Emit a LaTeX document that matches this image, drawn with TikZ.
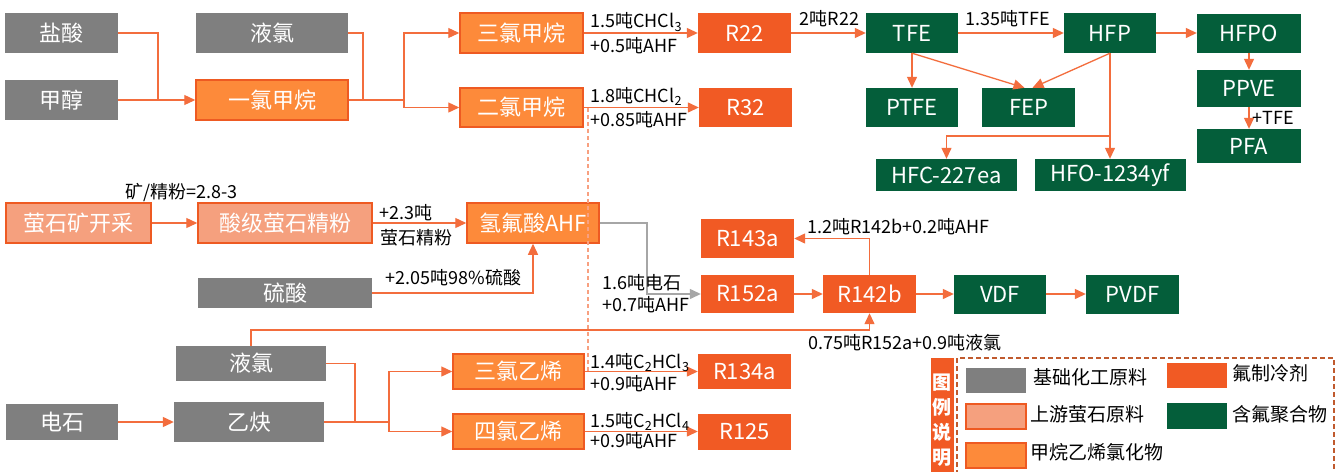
\documentclass[tikz,border=0pt]{standalone}
\usepackage{fontspec}
\setmainfont{Noto Sans CJK SC}
\usetikzlibrary{arrows.meta}
\definecolor{cgray}{HTML}{7F7F7F}
\definecolor{corange}{HTML}{FD8A3A}
\definecolor{csalmon}{HTML}{F5A07E}
\definecolor{cred}{HTML}{F15A24}
\definecolor{cgreen}{HTML}{045E3A}
\definecolor{cborder}{HTML}{EE5A22}
\definecolor{cline}{HTML}{F36D3D}
\definecolor{clight}{HTML}{F8A080}
\definecolor{cgline}{HTML}{A6A6A6}
\definecolor{clegend}{HTML}{C05A2E}
\begin{document}
\begin{tikzpicture}[x=1pt,y=-1pt,
  base/.style={inner sep=0pt, font=\fontsize{22}{22}\selectfont, text=white, anchor=center},
  gbox/.style={base, fill=cgray},
  obox/.style={base, fill=corange, draw=cborder, line width=1.5pt},
  sbox/.style={base, fill=csalmon, draw=cborder, line width=1.5pt},
  rbox/.style={base, fill=cred},
  ebox/.style={base, fill=cgreen},
  ln/.style={draw=cline, line width=1.3pt},
  arr/.style={ln, -{Triangle[length=11pt,width=10pt]}},
  garr/.style={draw=cgline, line width=1.3pt, -{Triangle[length=11pt,width=10pt]}},
  dl/.style={draw=clight, line width=1.1pt, dash pattern=on 4pt off 3pt},
  lab/.style={font=\fontsize{18}{18}\selectfont, inner sep=1pt, text=black},
  leg/.style={font=\fontsize{19}{19}\selectfont, inner sep=1pt, text=black, anchor=west}
]
\useasboundingbox (0,0) rectangle (1343,471);
\fill[white] (0,0) rectangle (1343,471);

% ---------- top rows ----------
\node[gbox, minimum width=113pt, minimum height=40pt] (yansuan) at (61.5,33) {盐酸};
\node[gbox, minimum width=113pt, minimum height=40pt] (jiachun) at (61.5,100) {甲醇};
\node[gbox, minimum width=152pt, minimum height=40pt] (yelv1) at (272,33) {液氯};
\node[obox, minimum width=152pt, minimum height=40pt] (yilv) at (272,100) {一氯甲烷};
\node[obox, minimum width=123pt, minimum height=40pt] (sanlvjw) at (521.5,33) {三氯甲烷};
\node[obox, minimum width=123pt, minimum height=39pt] (erlvjw) at (521.5,107.5) {二氯甲烷};
\node[rbox, minimum width=93pt, minimum height=40pt] (R22) at (744.5,33) {R22};
\node[rbox, minimum width=93pt, minimum height=39pt] (R32) at (745.5,107.5) {R32};
\node[ebox, minimum width=92pt, minimum height=40pt] (TFE) at (912,33) {TFE};
\node[ebox, minimum width=92pt, minimum height=40pt] (HFP) at (1110,33) {HFP};
\node[ebox, minimum width=104pt, minimum height=39pt] (HFPO) at (1249,33) {HFPO};
\node[ebox, minimum width=92pt, minimum height=39pt] (PTFE) at (912,107.5) {PTFE};
\node[ebox, minimum width=93pt, minimum height=39pt] (FEP) at (1028.5,107.5) {FEP};
\node[ebox, minimum width=141pt, minimum height=32pt] (HFC) at (946.5,175) {HFC-227ea};
\node[ebox, minimum width=151pt, minimum height=32pt] (HFO) at (1110,175) {HFO-1234yf};
\node[ebox, minimum width=104pt, minimum height=37pt] (PPVE) at (1249,88.5) {PPVE};
\node[ebox, minimum width=104pt, minimum height=34pt] (PFA) at (1249,146) {PFA};

\coordinate (b1) at (158,100);
\draw[ln] (yansuan.east) -| (b1);
\draw[arr] (jiachun.east) -- (yilv.west);
\coordinate (b2) at (363,100);
\draw[ln] (yelv1.east) -| (b2);
\coordinate (b3) at (404,100);
\draw[ln] (yilv.east) -- (b3);
\draw[arr] (b3) |- (sanlvjw.west);
\draw[arr] (b3) |- (erlvjw.west);

\draw[arr] (sanlvjw.east) -- (R22.west)
  node[lab, at start, anchor=west, xshift=5pt, yshift=11pt] {1.5吨CHCl\textsubscript{3}}
  node[lab, at start, anchor=west, xshift=5pt, yshift=-13pt] {+0.5吨AHF};
\draw[arr] (erlvjw.east) -- (R32.west)
  node[lab, at start, anchor=west, xshift=5pt, yshift=11pt] {1.8吨CHCl\textsubscript{2}}
  node[lab, at start, anchor=west, xshift=5pt, yshift=-12pt] {+0.85吨AHF};
\draw[arr] (R22.east) -- (TFE.west)
  node[lab, at start, anchor=west, xshift=7pt, yshift=14pt] {2吨R22};
\draw[arr] (TFE.east) -- (HFP.west)
  node[lab, at start, anchor=west, xshift=6pt, yshift=14pt] {1.35吨TFE};
\draw[arr] (HFP.east) -- (HFPO.west);
\draw[arr] (TFE.south) -- (PTFE.north);
\draw[arr] (TFE.south) -- ([xshift=-4pt]FEP.north);
\draw[arr] (HFP.south) -- ([xshift=4pt]FEP.north);
\coordinate (b4) at (1110,136);
\draw[arr] (HFP.south) -- (HFO.north);
\draw[arr] (b4) -| (HFC.north);
\draw[arr] (HFPO.south) -- (PPVE.north);
\draw[arr] (PPVE.south) -- (PFA.north)
  node[lab, midway, anchor=west, xshift=2pt] {+TFE};

% ---------- middle ----------
\node[sbox, minimum width=145pt, minimum height=40pt] (yingshi) at (78.5,223) {萤石矿开采};
\node[sbox, minimum width=174pt, minimum height=40pt] (suanji) at (285,223) {酸级萤石精粉};
\node[obox, minimum width=132pt, minimum height=40pt] (ahf) at (533,223) {氢氟酸AHF};
\node[gbox, minimum width=174pt, minimum height=30pt] (liusuan) at (285,293) {硫酸};
\node[rbox, minimum width=93pt, minimum height=39pt] (R143a) at (747.5,238.5) {R143a};
\node[rbox, minimum width=93pt, minimum height=38pt] (R152a) at (747.5,294) {R152a};
\node[rbox, minimum width=93pt, minimum height=38pt] (R142b) at (869.5,294) {R142b};
\node[ebox, minimum width=92pt, minimum height=39pt] (VDF) at (1000,294) {VDF};
\node[ebox, minimum width=93pt, minimum height=39pt] (PVDF) at (1132.5,294) {PVDF};

\draw[arr] (yingshi.east) -- (suanji.west)
  node[lab, midway, xshift=7pt, yshift=30pt] {矿/精粉=2.8-3};
\draw[arr] (suanji.east) -- (ahf.west)
  node[lab, at start, anchor=west, xshift=5pt, yshift=10pt] {+2.3吨}
  node[lab, at start, anchor=west, xshift=6pt, yshift=-15pt] {萤石精粉};
\draw[arr] (liusuan.east) -| (ahf.south)
  node[lab, pos=0.5, anchor=east, xshift=-10pt, yshift=15pt] {+2.05吨98\%硫酸};
\coordinate (b5) at (647,223);
\draw[garr] (ahf.east) -- (b5) |- (R152a.west)
  node[lab, pos=0.5, anchor=west, xshift=-46pt, yshift=11pt] {1.6吨电石}
  node[lab, pos=0.5, anchor=west, xshift=-46pt, yshift=-11pt] {+0.7吨AHF};
\draw[arr] (R152a.east) -- (R142b.west);
\draw[arr] (R142b.east) -- (VDF.west);
\draw[arr] (VDF.east) -- (PVDF.west);
\draw[arr] (R142b.north) |- (R143a.east)
  node[lab, pos=0.5, anchor=west, xshift=-64pt, yshift=12pt] {1.2吨R142b+0.2吨AHF};

% ---------- bottom ----------
\node[gbox, minimum width=150pt, minimum height=35pt] (yelv2) at (251,363.5) {液氯};
\node[gbox, minimum width=112pt, minimum height=36pt] (dianshi) at (62,422) {电石};
\node[gbox, minimum width=150pt, minimum height=40pt] (yiqu) at (249,422) {乙炔};
\node[obox, minimum width=131pt, minimum height=35pt] (sanlvyx) at (518.5,371.5) {三氯乙烯};
\node[obox, minimum width=131pt, minimum height=35pt] (silvyx) at (518.5,431.5) {四氯乙烯};
\node[rbox, minimum width=93pt, minimum height=35pt] (R134a) at (744.5,371.5) {R134a};
\node[rbox, minimum width=93pt, minimum height=36pt] (R125) at (744.5,431.5) {R125};

\coordinate (b6) at (251,330);
\draw[arr] (yelv2.north) -- (b6) -| (R142b.south)
  node[lab, pos=0.5, anchor=west, xshift=-63pt, yshift=-13pt] {0.75吨R152a+0.9吨液氯};
\draw[arr] (dianshi.east) -- (yiqu.west);
\coordinate (b8) at (355,422);
\draw[ln] (yelv2.east) -| (b8);
\coordinate (b9) at (389,422);
\draw[ln] (yiqu.east) -- (b9);
\draw[arr] (b9) |- (sanlvyx.west);
\draw[arr] (b9) |- (silvyx.west);
\draw[arr] (sanlvyx.east) -- (R134a.west)
  node[lab, at start, anchor=west, xshift=4pt, yshift=9pt] {1.4吨C\textsubscript{2}HCl\textsubscript{3}}
  node[lab, at start, anchor=west, xshift=4pt, yshift=-12pt] {+0.9吨AHF};
\draw[arr] (silvyx.east) -- (R125.west)
  node[lab, at start, anchor=west, xshift=4pt, yshift=10pt] {1.5吨C\textsubscript{2}HCl\textsubscript{4}}
  node[lab, at start, anchor=west, xshift=4pt, yshift=-9pt] {+0.9吨AHF};

\coordinate (d1) at (588,108);
\coordinate (d2) at (588,371.5);
\draw[dl] (d1) -- (d2);

% ---------- legend ----------
\draw[draw=clegend, line width=1.5pt, dash pattern=on 5pt off 3pt] (957,475) -- (957,358) -- (1334,358) -- (1334,475);
\node[fill=cred, draw=cborder, line width=1pt, minimum width=22pt, minimum height=124pt, inner sep=0pt,
  text=white, align=center, font=\fontsize{19}{25}\selectfont\bfseries] (lgt) at (942,420) {图\\例\\说\\明};
\node[gbox, minimum width=60pt, minimum height=25pt] (sw1) at (996,380.5) {};
\node[sbox, minimum width=60pt, minimum height=25pt] (sw2) at (996,416.5) {};
\node[obox, minimum width=60pt, minimum height=25pt] (sw3) at (996,455.5) {};
\node[rbox, minimum width=60pt, minimum height=25pt] (sw4) at (1197,375.5) {};
\node[ebox, minimum width=60pt, minimum height=26pt] (sw5) at (1197,416) {};
\node[leg] (t1) at (1032,377) {基础化工原料};
\node[leg] (t2) at (1029,414) {上游萤石原料};
\node[leg] (t3) at (1029,452) {甲烷乙烯氯化物};
\node[leg] (t4) at (1231,373) {氟制冷剂};
\node[leg] (t5) at (1231,414) {含氟聚合物};
\end{tikzpicture}
\end{document}
